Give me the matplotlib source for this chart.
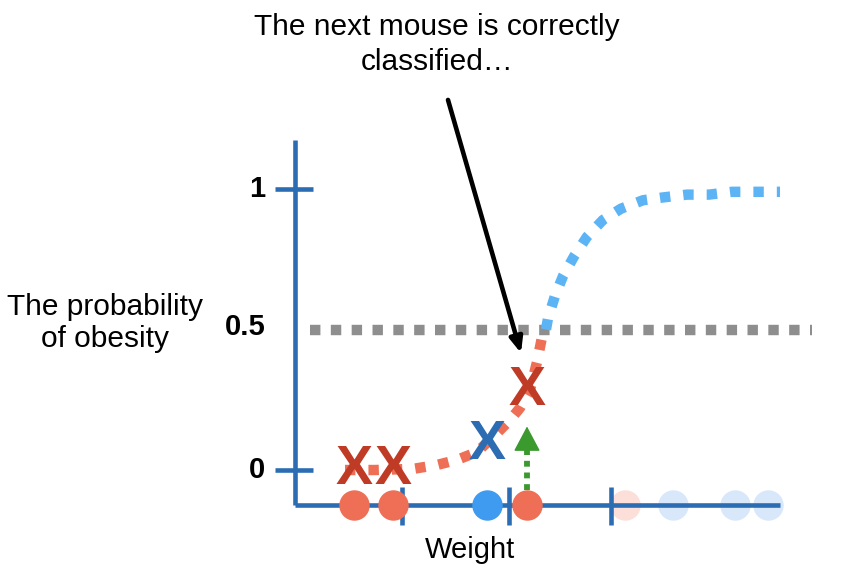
import numpy as np
import matplotlib
matplotlib.use('Agg')
import matplotlib.pyplot as plt

plt.rcParams['font.family'] = ['Liberation Sans', 'DejaVu Sans']

# logistic curve as drawn (weight, probability)
red_w = [1.0, 1.6, 2.36, 2.84, 3.24, 3.64, 3.96, 4.30, 4.50, 4.70, 4.84, 4.94, 5.02]
red_p = [0.0, 0.0, 0.004, 0.018, 0.036, 0.064, 0.117, 0.178, 0.221, 0.285, 0.384, 0.473, 0.50]
blue_w = [5.02, 5.06, 5.20, 5.36, 5.58, 5.84, 6.16, 6.52, 6.96, 7.36, 7.84, 8.28, 8.74, 9.70]
blue_p = [0.50, 0.54, 0.62, 0.69, 0.76, 0.83, 0.89, 0.93, 0.96, 0.97, 0.98, 0.98, 0.99, 0.99]

# mice along the weight axis
obese_w = [1.18, 1.96, 4.64]
not_obese_w = [3.84]
faded_obese_w = [6.6]
faded_not_obese_w = [7.56, 8.8, 9.46]

# classified mice (the X marks)
red_x = [(1.18, 0.0), (1.96, 0.0), (4.64, 0.281)]
blue_x = [(3.84, 0.089)]

xticks = [2.14, 4.28, 6.32]
yticks = [0, 1]
ytick_labels = ['0', '1']

axis_y = -0.1246
axis_blue = '#2B6CB3'
red = '#EE6F55'
blue = '#3E9BEF'
curve_blue = '#5DB4F5'

fig = plt.figure(figsize=(8.54, 5.73), dpi=100)
ax = fig.add_axes([0, 0, 1, 1])
ax.set_xlim(-5.9, 11.18)
ax.set_ylim(-0.3665, 1.6726)
ax.axis('off')

# faded mice go under the axis line
ax.scatter(faded_obese_w, [axis_y] * len(faded_obese_w), s=480, color='#FCDFD8', zorder=1, lw=0)
ax.scatter(faded_not_obese_w, [axis_y] * len(faded_not_obese_w), s=480, color='#D8E8FA', zorder=1, lw=0)

# axes drawn by hand
ax.plot([0, 0], [axis_y, 1.174], color=axis_blue, lw=3.3, solid_capstyle='butt', zorder=2)
ax.plot([0, 9.7], [axis_y, axis_y], color=axis_blue, lw=3.3, solid_capstyle='butt', zorder=2)
for t in yticks:
    ax.plot([-0.4, 0.36], [t, t], color=axis_blue, lw=3.3, solid_capstyle='butt', zorder=2)
for t in xticks:
    ax.plot([t, t], [-0.06, -0.196], color=axis_blue, lw=3.3, solid_capstyle='butt', zorder=2)

# 0.5 threshold
ax.plot([0.3, 10.34], [0.5, 0.5], color='#8E8E8E', lw=7.5, dashes=(1, 1.0),
        dash_capstyle='butt', zorder=2)

# curve
ax.plot(red_w, red_p, color=red, lw=7.5, dashes=(1, 1.25), dash_capstyle='butt', zorder=3)
ax.plot(blue_w, blue_p, color=curve_blue, lw=7.5, dashes=(1, 1.25), dash_capstyle='butt', zorder=3)

# mice on the axis
ax.scatter(obese_w, [axis_y] * len(obese_w), s=480, color=red, zorder=4, lw=0)
ax.scatter(not_obese_w, [axis_y] * len(not_obese_w), s=480, color=blue, zorder=4, lw=0)

for w, p in red_x:
    ax.text(w, p, 'X', color='#BF3B25', fontsize=40, fontweight='bold',
            ha='center', va='center', zorder=5)
for w, p in blue_x:
    ax.text(w, p, 'X', color='#2B6CB3', fontsize=40, fontweight='bold',
            ha='center', va='center', zorder=5)

# green arrow up from the new mouse
ax.plot([4.64, 4.64], [-0.07, 0.08], color='#3A9A2E', lw=4.2, dashes=(1, 1.0),
        dash_capstyle='butt', zorder=3)
ax.annotate('', xy=(4.64, 0.155), xytext=(4.64, 0.06),
            arrowprops=dict(arrowstyle='-|>,head_length=1.6,head_width=0.85',
                            color='#3A9A2E', lw=1.0, shrinkA=0, shrinkB=0), zorder=3)

# black arrow from the caption
ax.annotate('', xy=(4.52, 0.416), xytext=(3.06, 1.317),
            arrowprops=dict(arrowstyle='-|>,head_length=0.9,head_width=0.38',
                            color='black', lw=3.3, shrinkA=0, shrinkB=0), zorder=6)

# text
ax.text(2.84, 1.515, 'The next mouse is correctly\nclassified…', fontsize=21.5,
        ha='center', va='center', linespacing=1.33)
ax.text(-3.8, 0.523, 'The probability\nof obesity', fontsize=21.5, ha='center',
        va='center', linespacing=1.2)
ax.text(3.5, -0.285, 'Weight', fontsize=21, ha='center', va='center')
for t, lab in zip(yticks, ytick_labels):
    ax.text(-0.75, t, lab, fontsize=21, fontweight='bold', ha='center', va='center')
ax.text(-1.0, 0.509, '0.5', fontsize=21, fontweight='bold', ha='center', va='center')

fig.savefig('out.png', dpi=100)
